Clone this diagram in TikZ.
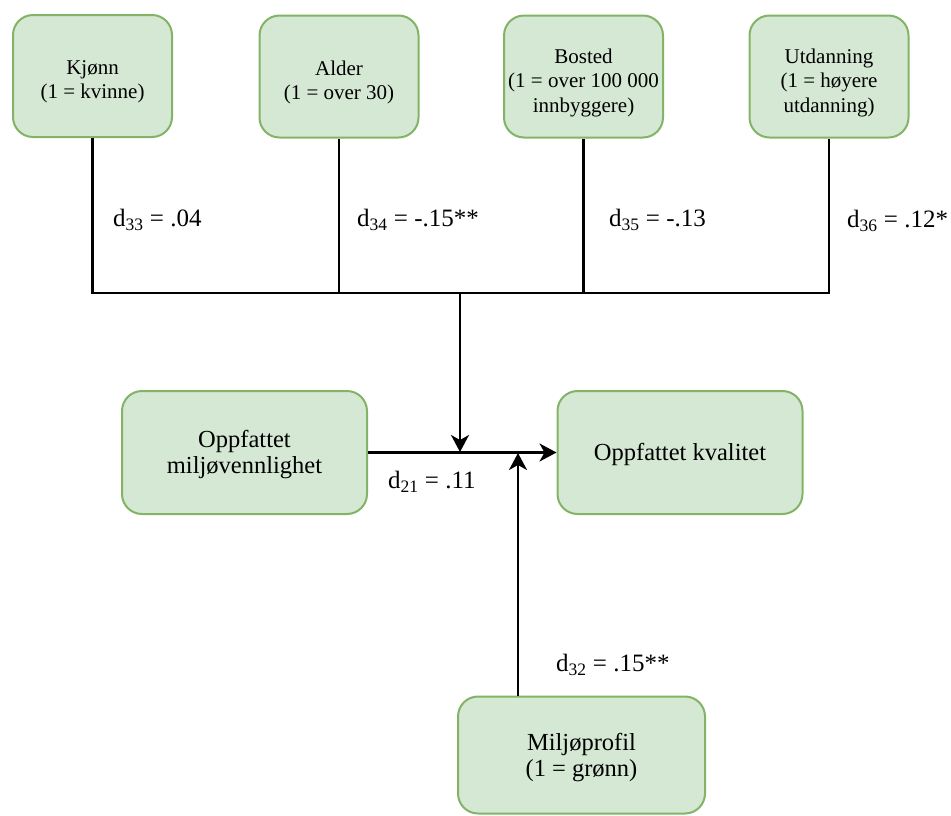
\documentclass[tikz,border=0pt]{standalone}
\usepackage{fontspec}
\setmainfont{Liberation Serif}
\usetikzlibrary{arrows.meta}
\tikzset{
  box/.style={draw=boxline, fill=boxfill, line width=2pt, rounded corners=20pt},
  topbox/.style={box, minimum width=159pt, minimum height=122pt},
  midbox/.style={box, minimum width=245pt, minimum height=123pt},
  toptext/.style={align=center, inner sep=0pt, font=\fontsize{21}{24.5}\selectfont},
  midtext/.style={align=center, inner sep=0pt, font=\fontsize{24.5}{26}\selectfont},
  conn/.style={line width=2.2pt, black},
  arr/.style={conn, -{Stealth[length=17pt,width=18pt,inset=5pt]}},
  lbl/.style={font=\fontsize{25}{27}\selectfont, anchor=west, inner sep=0pt}
}
\definecolor{boxfill}{HTML}{D5E8D4}
\definecolor{boxline}{HTML}{82B366}
\begin{document}
\begin{tikzpicture}[x=1pt,y=-1pt]
\useasboundingbox (0,0) rectangle (951,815);
\node[topbox] (kj) at (92.5,76) {};
\node[topbox] (al) at (339,76.5) {};
\node[topbox] (bo) at (583.5,76.5) {};
\node[topbox] (ut) at (829,76.5) {};
\node[midbox] (omv) at (244.5,452.5) {};
\node[midbox] (ok) at (680,452.5) {};
\node[box, minimum width=247pt, minimum height=117pt] (mp) at (581.5,755) {};
\node[toptext] (kjt) at ([yshift=-6pt]kj.center) {Kjønn\\(1 = kvinne)};
\node[toptext] (alt) at ([yshift=-6pt]al.center) {Alder\\(1 = over 30)};
\node[toptext] (bot) at ([yshift=-6pt]bo.center) {Bosted\\(1 = over 100 000\\innbyggere)};
\node[toptext] (utt) at ([yshift=-6pt]ut.center) {Utdanning\\(1 = høyere\\utdanning)};
\node[midtext] (omvt) at ([yshift=-2.5pt]omv.center) {Oppfattet\\miljøvennlighet};
\node[midtext] (okt) at ([yshift=-1.5pt]ok.center) {Oppfattet kvalitet};
\node[midtext] (mpt) at ([yshift=-3pt]mp.center) {Miljøprofil\\(1 = grønn)};
\coordinate (busL) at (92.5,293);
\coordinate (busR) at (829,293);
\coordinate (busM) at (460,293);
\coordinate (hitA) at (460,452);
\coordinate (upS) at (518,696);
\coordinate (upE) at (518,453);
\draw[conn] (kj.south) -- (kj.south |- busL);
\draw[conn] (al.south) -- (al.south |- busL);
\draw[conn] (bo.south) -- (bo.south |- busL);
\draw[conn] (ut.south) -- (ut.south |- busL);
\draw[conn, line cap=rect] (busL) -- (busR);
\draw[arr] (busM) -- (hitA);
\draw[arr] (omv.east) -- (ok.west);
\draw[arr] (upS) -- (upE);
\node[lbl] (l33) at (113,220) {d\textsubscript{33} = .04};
\node[lbl] (l34) at (357,220) {d\textsubscript{34} = -.15**};
\node[lbl] (l35) at (609,220) {d\textsubscript{35} = -.13};
\node[lbl] (l36) at (847,221) {d\textsubscript{36} = .12*};
\node[lbl] (l21) at (388,482) {d\textsubscript{21} = .11};
\node[lbl] (l32) at (556,665) {d\textsubscript{32} = .15**};
\end{tikzpicture}
\end{document}
